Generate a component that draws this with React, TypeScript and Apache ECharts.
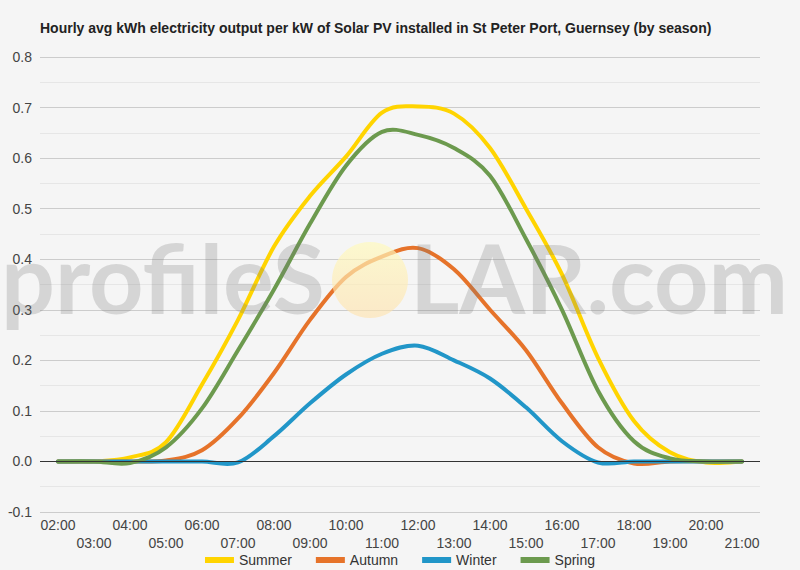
import React, { useEffect, useRef } from 'react';
import * as echarts from 'echarts';

const hours = [
  '02:00', '03:00', '04:00', '05:00', '06:00', '07:00', '08:00', '09:00', '10:00', '11:00',
  '12:00', '13:00', '14:00', '15:00', '16:00', '17:00', '18:00', '19:00', '20:00', '21:00',
];
const summer = [0, 0, 0.008, 0.038, 0.152, 0.28, 0.425, 0.525, 0.603, 0.69, 0.702, 0.688, 0.62, 0.5, 0.37, 0.205, 0.08, 0.018, -0.002, 0];
const autumn = [0, 0, 0, 0.002, 0.022, 0.085, 0.175, 0.28, 0.365, 0.405, 0.422, 0.38, 0.3, 0.22, 0.115, 0.028, -0.004, 0, 0, 0];
const winter = [0, 0, 0, 0, 0, -0.002, 0.05, 0.115, 0.172, 0.213, 0.229, 0.2, 0.164, 0.107, 0.04, -0.002, 0, 0, 0, 0];
const spring = [0, 0, -0.003, 0.028, 0.105, 0.22, 0.34, 0.47, 0.585, 0.652, 0.646, 0.62, 0.565, 0.44, 0.3, 0.14, 0.04, 0.006, 0, 0];

const seasonNames = ['Summer', 'Autumn', 'Winter', 'Spring'];
const seasonColors = ['#FFD400', '#E6732A', '#2196C8', '#6C9A4E'];

const App: React.FC = () => {
  const chartRef = useRef<HTMLDivElement>(null);

  useEffect(() => {
    document.body.style.margin = '0';
    if (!chartRef.current) return;
    const chart = echarts.init(chartRef.current, null, { renderer: 'svg' });

    // 平滑曲线（Catmull-Rom），坐标全部来自坐标轴换算
    const seriesData = [summer, autumn, winter, spring];
    const series = seriesData.map((values, i) => ({
      name: seasonNames[i],
      type: 'custom',
      data: values.map((v, j) => [j, v]),
      encode: { x: 0, y: 1 },
      itemStyle: { color: seasonColors[i] },
      z: 3,
      renderItem: (params: any, api: any) => {
        if (params.dataIndex !== 0) return null;
        const pts = values.map((v, j) => api.coord([j, v]));
        let d = `M${pts[0][0]},${pts[0][1]}`;
        for (let j = 0; j < pts.length - 1; j++) {
          const p0 = pts[j - 1] || pts[j];
          const p1 = pts[j];
          const p2 = pts[j + 1];
          const p3 = pts[j + 2] || p2;
          const c1x = p1[0] + (p2[0] - p0[0]) / 6;
          const c1y = p1[1] + (p2[1] - p0[1]) / 6;
          const c2x = p2[0] - (p3[0] - p1[0]) / 6;
          const c2y = p2[1] - (p3[1] - p1[1]) / 6;
          d += ` C${c1x},${c1y} ${c2x},${c2y} ${p2[0]},${p2[1]}`;
        }
        return {
          type: 'path',
          shape: { pathData: d },
          style: { fill: 'none', stroke: seasonColors[i], lineWidth: 4, lineJoin: 'round', lineCap: 'round' },
        };
      },
    }));

    // 水印
    const watermarkFont = 'bold 95px Lato, "Open Sans", sans-serif';
    const graphic = [
      {
        type: 'text',
        left: 1,
        top: 229,
        z: 10,
        silent: true,
        style: { text: 'profileS', font: watermarkFont, fill: 'rgba(120,120,120,0.25)' },
      },
      {
        type: 'circle',
        z: 10,
        silent: true,
        shape: { cx: 370, cy: 280, r: 38 },
        style: {
          fill: new echarts.graphic.LinearGradient(0, 0, 0, 1, [
            { offset: 0, color: 'rgba(255,250,190,0.7)' },
            { offset: 1, color: 'rgba(255,225,170,0.6)' },
          ]),
        },
      },
      {
        type: 'text',
        left: 410,
        top: 229,
        z: 10,
        silent: true,
        style: { text: 'LAR.com', font: watermarkFont, fill: 'rgba(120,120,120,0.25)' },
      },
    ];

    chart.setOption({
      animation: false,
      backgroundColor: '#F5F5F5',
      title: {
        text: 'Hourly avg kWh electricity output per kW of Solar PV installed in St Peter Port, Guernsey (by season)',
        left: 35,
        top: 16,
        textStyle: { fontFamily: 'Arial, sans-serif', fontSize: 14, fontWeight: 'bold', color: '#222' },
      },
      legend: {
        top: 548,
        left: 'center',
        icon: 'rect',
        itemWidth: 29,
        itemHeight: 6,
        itemGap: 24,
        data: seasonNames,
        textStyle: { fontFamily: 'Arial, sans-serif', fontSize: 14, color: '#333' },
      },
      grid: { left: 40, right: 40, top: 57, bottom: 58, containLabel: false },
      xAxis: {
        type: 'category',
        data: hours,
        boundaryGap: true,
        axisLine: { show: false },
        axisTick: { show: false },
        axisLabel: {
          interval: 0,
          margin: 4,
          color: '#444',
          fontFamily: 'Arial, sans-serif',
          fontSize: 14,
          lineHeight: 18,
          formatter: (v: string, i: number) => (i % 2 ? '\n' + v : v),
        },
      },
      yAxis: {
        type: 'value',
        min: -0.1,
        max: 0.8,
        interval: 0.1,
        axisLine: { show: false },
        axisTick: { show: false },
        axisLabel: {
          margin: 8,
          color: '#444',
          fontFamily: 'Arial, sans-serif',
          fontSize: 14,
          formatter: (v: number) => v.toFixed(1),
        },
        splitLine: { lineStyle: { color: '#CCCCCC', width: 1 } },
        minorTick: { show: false, splitNumber: 2 },
        minorSplitLine: { show: true, lineStyle: { color: '#E6E6E6', width: 1 } },
      },
      series: [
        ...series,
        {
          name: 'zero',
          type: 'line',
          data: [],
          silent: true,
          markLine: {
            silent: true,
            symbol: 'none',
            label: { show: false },
            lineStyle: { color: '#333', width: 1, type: 'solid' },
            data: [{ yAxis: 0 }],
          },
          z: 1,
        },
      ],
      graphic,
    });

    return () => chart.dispose();
  }, []);

  return <div ref={chartRef} style={{ width: 800, height: 570 }} />;
};

export default App;
